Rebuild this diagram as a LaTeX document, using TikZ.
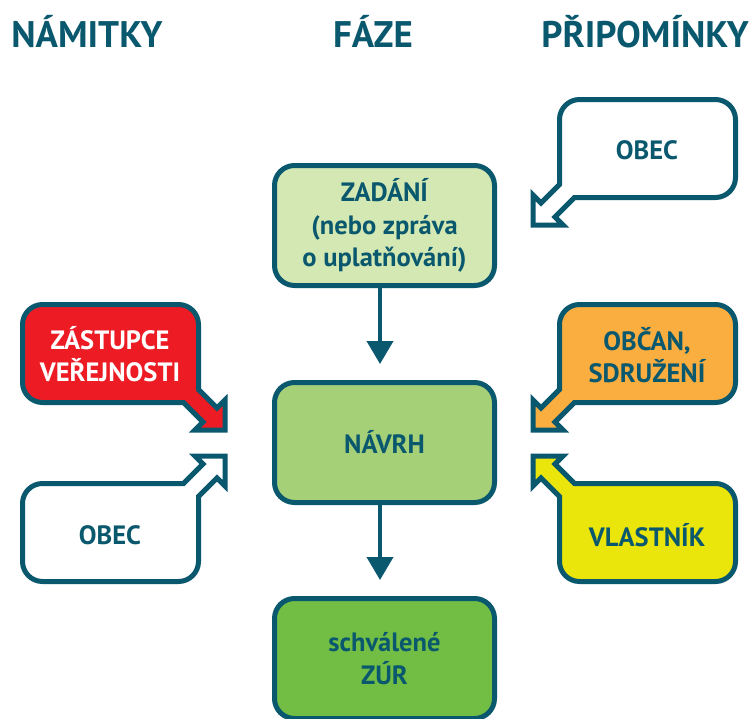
\documentclass[tikz,border=0pt]{standalone}
\usepackage{fontspec}
\setmainfont{PT Sans}
\usetikzlibrary{arrows.meta}
\definecolor{dteal}{RGB}{10,88,110}
\definecolor{cZad}{RGB}{211,232,178}
\definecolor{cNav}{RGB}{166,208,120}
\definecolor{cSch}{RGB}{114,190,68}
\definecolor{cRed}{RGB}{237,28,36}
\definecolor{cOra}{RGB}{250,174,64}
\definecolor{cYel}{RGB}{234,230,12}
\newcommand\bxfont{\fontsize{26.5}{32.5}\selectfont\bfseries}
\newcommand\ttlfont{\fontsize{37}{40}\selectfont\bfseries}
\newcommand\bubblepath{(26.5,-40.5) -- (26.5,-105.5) .. controls (26.5,-116.5) and (35.5,-125.5) .. (46.5,-125.5) -- (182.5,-125.5) .. controls (193.5,-125.5) and (202.5,-116.5) .. (202.5,-105.5) -- (202.5,-47.5) .. controls (202.5,-36.5) and (193.5,-27.5) .. (182.5,-27.5) -- (41.5,-27.5) -- (22,-8) -- (30,0) -- (0,0) -- (0,-30) -- (8,-22) -- cycle}
\begin{document}
\begin{tikzpicture}[x=1pt,y=-1pt,
  bubble/.style={draw=dteal, line width=5pt, line join=miter},
  phase/.style={draw=dteal, line width=5pt, rounded corners=20pt, minimum width=220pt, minimum height=120pt, text=dteal, font=\bxfont, align=center, inner sep=0pt},
  lbl/.style={text=dteal, font=\bxfont, align=center, inner sep=0pt},
  ttl/.style={text=dteal, font=\ttlfont, anchor=base, inner sep=0pt},
  flow/.style={draw=dteal, line width=4pt, -{Triangle[width=26pt,length=23pt]}, shorten >=16pt}]
\useasboundingbox (0,0) rectangle (755,718);

% titles
\node[ttl] (tNam) at (87,47) {NÁMITKY};
\node[ttl] (tFaz) at (373,47) {FÁZE};
\node[ttl] (tPri) at (645,47) {PŘIPOMÍNKY};

% bubbles
\begin{scope}[shift={(533,225)}]
  \draw[bubble, fill=white] \bubblepath;
\end{scope}
\begin{scope}[shift={(533,430)}]
  \draw[bubble, fill=cOra] \bubblepath;
\end{scope}
\begin{scope}[shift={(533,456)}, yscale=-1]
  \draw[bubble, fill=cYel] \bubblepath;
\end{scope}
\begin{scope}[shift={(225,430)}, xscale=-1]
  \draw[bubble, fill=cRed] \bubblepath;
\end{scope}
\begin{scope}[shift={(225,456)}, xscale=-1, yscale=-1]
  \draw[bubble, fill=white] \bubblepath;
\end{scope}

\node[lbl] (bObec1) at (647,150) {OBEC};
\node[lbl] (bObcan) at (647,355) {OBČAN,\\SDRUŽENÍ};
\node[lbl] (bVlast) at (647,535) {VLASTNÍK};
\node[lbl, text=white] (bZast) at (110,354) {ZÁSTUPCE\\VEŘEJNOSTI};
\node[lbl] (bObec2) at (110,535) {OBEC};

% phases
\node[phase, fill=cZad] (zad) at (384.5,225.5) {ZADÁNÍ\\(nebo zpráva\\o uplatňování)};
\node[phase, fill=cNav] (nav) at (384.5,442.5) {NÁVRH};
\node[phase, fill=cSch] (sch) at (384.5,658.5) {schválené\\ZÚR};

\draw[flow] ([xshift=-4.5pt]zad.south) -- ([xshift=-4.5pt]nav.north);
\draw[flow] ([xshift=-4.5pt]nav.south) -- ([xshift=-4.5pt]sch.north);
\end{tikzpicture}
\end{document}
